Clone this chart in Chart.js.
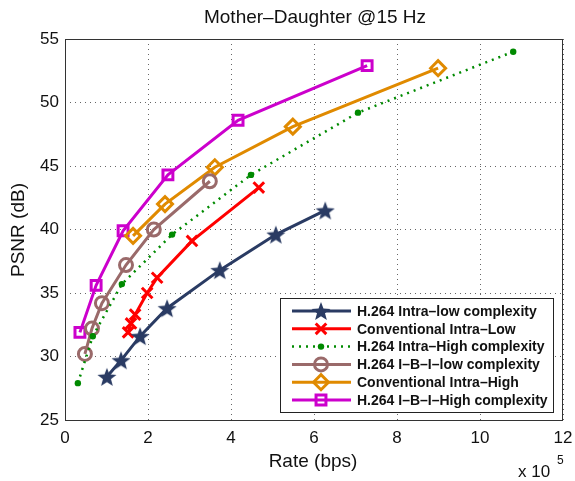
<!DOCTYPE html>
<html>
<head>
<meta charset="utf-8">
<script src="https://cdn.jsdelivr.net/npm/chart.js@4.4.1/dist/chart.umd.min.js"></script>
<style>
  html, body { margin: 0; padding: 0; background: #fff; }
  #wrap { width: 575px; height: 481px; position: relative; }
</style>
</head>
<body>
<div id="wrap"><canvas id="chart"></canvas></div>
<script>
// ── Data (rate in x10^5 bps, PSNR in dB) ─────────────────────────────
const xTicks = [0, 2, 4, 6, 8, 10, 12];
const yTicks = [25, 30, 35, 40, 45, 50, 55];

const seriesNames = [
    'H.264 Intra–low complexity',
    'Conventional Intra–Low',
    'H.264 Intra–High complexity',
    'H.264 I–B–I–low complexity',
    'Conventional Intra–High',
    'H.264 I–B–I–High complexity'
];

const intraLowRate = [1.01, 1.35, 1.81, 2.46, 3.73, 5.08, 6.27];
const intraLowPsnr = [28.4, 29.7, 31.6, 33.8, 36.8, 39.6, 41.5];

const convLowRate = [1.52, 1.59, 1.69, 1.98, 2.22, 3.06, 4.67];
const convLowPsnr = [31.9, 32.6, 33.3, 35.0, 36.2, 39.1, 43.3];

const intraHighRate = [0.31, 0.67, 1.37, 2.58, 4.48, 7.06, 10.8];
const intraHighPsnr = [27.9, 31.6, 35.7, 39.6, 44.3, 49.2, 54.0];

const ibiLowRate = [0.48, 0.65, 0.89, 1.47, 2.14, 3.49];
const ibiLowPsnr = [30.2, 32.2, 34.2, 37.2, 40.0, 43.8];

const convHighRate = [1.64, 2.41, 3.61, 5.49, 8.99];
const convHighPsnr = [39.5, 42.0, 44.9, 48.1, 52.7];

const ibiHighRate = [0.36, 0.75, 1.40, 2.48, 4.17, 7.28];
const ibiHighPsnr = [31.9, 35.6, 39.9, 44.3, 48.6, 52.9];

// ── Styles ───────────────────────────────────────────────────────────
const NAVY = '#2a3b63';
const RED = '#ff0000';
const GREEN = '#008a00';
const BROWN = '#9a6a6a';
const ORANGE = '#e08a00';
const MAGENTA = '#cc00cc';
const NONE = 'rgba(0,0,0,0)';

function makeStar(color, size) {
    const c = document.createElement('canvas');
    c.width = size; c.height = size;
    const g = c.getContext('2d');
    const R = size / 2, r = R * 0.42;
    g.beginPath();
    for (let i = 0; i < 10; i++) {
        const rad = i % 2 === 0 ? R : r;
        const a = -Math.PI / 2 + i * Math.PI / 5;
        const px = R + rad * Math.cos(a), py = R + 1 + rad * Math.sin(a);
        i === 0 ? g.moveTo(px, py) : g.lineTo(px, py);
    }
    g.closePath();
    g.fillStyle = color;
    g.fill();
    return c;
}
const starImg = makeStar(NAVY, 20);

const pts = (xs, ys) => xs.map((x, i) => ({ x, y: ys[i] }));

const datasets = [
    { label: seriesNames[0], data: pts(intraLowRate, intraLowPsnr), borderColor: NAVY, borderWidth: 3,
      pointStyle: starImg, pointRadius: 10, pointBorderWidth: 0, pointBackgroundColor: NAVY, pointBorderColor: NAVY },
    { label: seriesNames[1], data: pts(convLowRate, convLowPsnr), borderColor: RED, borderWidth: 3,
      pointStyle: 'crossRot', pointRadius: 7.5, pointBorderWidth: 3, pointBackgroundColor: NONE, pointBorderColor: RED },
    { label: seriesNames[2], data: pts(intraHighRate, intraHighPsnr), borderColor: GREEN, borderWidth: 2.5,
      borderDash: [2, 5], pointStyle: 'circle', pointRadius: 3.2, pointBorderWidth: 0,
      pointBackgroundColor: GREEN, pointBorderColor: GREEN },
    { label: seriesNames[3], data: pts(ibiLowRate, ibiLowPsnr), borderColor: BROWN, borderWidth: 3,
      pointStyle: 'circle', pointRadius: 6.5, pointBorderWidth: 3, pointBorderColor: BROWN,
      pointBackgroundColor: NONE },
    { label: seriesNames[4], data: pts(convHighRate, convHighPsnr), borderColor: ORANGE, borderWidth: 3,
      pointStyle: 'rectRot', pointRadius: 7.5, pointBorderWidth: 3, pointBorderColor: ORANGE,
      pointBackgroundColor: NONE },
    { label: seriesNames[5], data: pts(ibiHighRate, ibiHighPsnr), borderColor: MAGENTA, borderWidth: 3,
      pointStyle: 'rect', pointRadius: 7, pointBorderWidth: 3, pointBorderColor: MAGENTA,
      pointBackgroundColor: NONE }
];
datasets.forEach(d => { d.fill = false; d.tension = 0; d.showLine = true; });

const FONT = '"Liberation Sans", Arial, Helvetica, sans-serif';

// ── Decorations: title, axis titles, box, legend ──────────────────────
const decorPlugin = {
    id: 'decor',
    afterDraw(chart) {
        const { ctx, chartArea: a } = chart;
        ctx.save();
        // axes box
        ctx.strokeStyle = '#333';
        ctx.lineWidth = 1;
        ctx.setLineDash([]);
        ctx.strokeRect(a.left + 0.5, a.top + 0.5, a.right - a.left - 1, a.bottom - a.top);

        ctx.fillStyle = '#111';
        ctx.textAlign = 'center';
        ctx.textBaseline = 'middle';
        ctx.font = '19px ' + FONT;
        ctx.fillText('Mother–Daughter @15 Hz', 315, 18);

        ctx.font = '19px ' + FONT;
        ctx.fillText('Rate (bps)', 313, 462);

        ctx.save();
        ctx.translate(19, 230);
        ctx.rotate(-Math.PI / 2);
        ctx.fillText('PSNR (dB)', 0, 0);
        ctx.restore();

        ctx.textAlign = 'left';
        ctx.font = '17px ' + FONT;
        ctx.fillText('x 10', 518, 472);
        ctx.font = '12px ' + FONT;
        ctx.fillText('5', 557, 461);

        // legend box
        const bx = 280, by = 298, bw = 273, bh = 114;
        ctx.fillStyle = '#fff';
        ctx.fillRect(bx, by, bw, bh);
        ctx.strokeStyle = '#222';
        ctx.lineWidth = 1;
        ctx.strokeRect(bx + 0.5, by + 0.5, bw, bh);

        chart.data.datasets.forEach((ds, i) => {
            const y = 311 + i * 17.8;
            ctx.strokeStyle = ds.borderColor;
            ctx.lineWidth = ds.borderWidth;
            ctx.setLineDash(ds.borderDash || []);
            ctx.beginPath();
            ctx.moveTo(292, y);
            ctx.lineTo(351, y);
            ctx.stroke();
            ctx.setLineDash([]);

            ctx.fillStyle = ds.pointBackgroundColor;
            ctx.strokeStyle = ds.pointBorderColor;
            ctx.lineWidth = ds.pointBorderWidth || 1;
            Chart.helpers.drawPoint(ctx, {
                pointStyle: ds.pointStyle,
                radius: ds.pointRadius,
                rotation: 0,
                borderWidth: ds.pointBorderWidth
            }, 321, y);

            ctx.fillStyle = '#111';
            ctx.font = 'bold 14px ' + FONT;
            ctx.textAlign = 'left';
            ctx.textBaseline = 'middle';
            ctx.fillText(ds.label, 357, y + 1);
        });
        ctx.restore();
    }
};

const gridOpts = { color: '#666', lineWidth: 1, drawTicks: false };

new Chart(document.getElementById('chart'), {
    type: 'scatter',
    data: { datasets },
    options: {
        responsive: true,
        maintainAspectRatio: false,
        animation: false,
        layout: { autoPadding: false, padding: { top: 39, right: 12, left: 0, bottom: 0 } },
        plugins: {
            legend: { display: false },
            tooltip: { enabled: false }
        },
        scales: {
            x: {
                type: 'linear', min: 0, max: 12,
                afterBuildTicks: s => { s.ticks = xTicks.map(v => ({ value: v })); },
                afterFit: s => { s.height = 61; s.paddingLeft = 0; s.paddingRight = 0; },
                grid: gridOpts,
                border: { display: false, dash: [1, 4] },
                ticks: { color: '#111', padding: 8, font: { family: FONT, size: 17 }, maxRotation: 0 }
            },
            y: {
                type: 'linear', min: 25, max: 55,
                afterBuildTicks: s => { s.ticks = yTicks.map(v => ({ value: v })); },
                afterFit: s => { s.width = 65; s.paddingTop = 0; s.paddingBottom = 0; },
                grid: gridOpts,
                border: { display: false, dash: [1, 4] },
                ticks: { color: '#111', padding: 6, font: { family: FONT, size: 17 } }
            }
        }
    },
    plugins: [decorPlugin]
});
</script>
</body>
</html>
